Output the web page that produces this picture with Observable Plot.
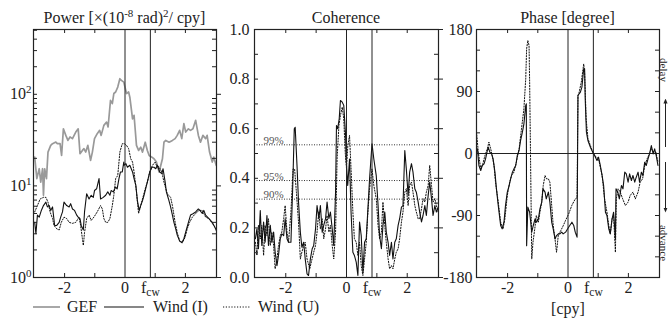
<!DOCTYPE html>
<html><head><meta charset="utf-8">
<script src="https://cdn.jsdelivr.net/npm/d3@7"></script>
<script src="https://cdn.jsdelivr.net/npm/@observablehq/plot@0.6"></script>
<style>
body{margin:0;background:#fff;}
#wrap{position:relative;width:670px;height:320px;overflow:hidden;}
#wrap svg{position:absolute;left:0;top:0;}
</style></head>
<body><div id="wrap"></div>
<script>
// ---------- data ----------
const fcw = 0.84;
const xDomain = [-3.03, 3.03];
const xTickValues = [-2, 0, fcw, 2];
const xMinorTicks = [-2, -1, 1, 2];

// Power spectra [f (cpy), power]
const powerGEF = [[-2.99,20.6],[-2.92,12],[-2.84,15.4],[-2.79,11],[-2.73,15.4],[-2.70,7.9],[-2.66,15.4],[-2.60,12],[-2.55,23.4],[-2.46,27.7],[-2.40,28.9],[-2.29,30.1],[-2.24,28.9],[-2.15,28.9],[-2.10,21.5],[-2.04,42],[-1.96,35.6],[-1.89,31.4],[-1.82,34.2],[-1.74,32.8],[-1.63,38.7],[-1.55,42],[-1.49,22.5],[-1.41,24.4],[-1.36,25.5],[-1.30,23.4],[-1.23,27.7],[-1.14,19],[-1.08,23.4],[-1.01,32.8],[-0.92,37.2],[-0.84,40.4],[-0.79,35.6],[-0.70,45.8],[-0.61,49.8],[-0.56,44],[-0.48,86],[-0.42,79],[-0.37,102],[-0.31,106],[-0.24,120],[-0.17,148],[-0.12,142],[-0.04,136],[0.05,102],[0.12,106],[0.16,93],[0.25,54],[0.30,59],[0.38,27.7],[0.45,24.4],[0.52,26.5],[0.58,23.4],[0.67,30],[0.74,24.4],[0.80,21.5],[0.89,20.6],[0.96,19.8],[1.04,18.2],[1.13,14.2],[1.24,19.8],[1.29,30],[1.35,31.4],[1.46,30],[1.57,31.4],[1.66,32.8],[1.73,35.6],[1.81,40.4],[1.88,32.8],[1.95,47.9],[2.01,38.7],[2.10,42],[2.17,40.4],[2.25,42],[2.34,52],[2.43,35.6],[2.50,30],[2.58,35.6],[2.67,32.8],[2.72,35.6],[2.80,23.4],[2.89,18.2],[2.94,20.6],[3.02,16.8]];
const powerWindI = [[-2.99,4.0],[-2.95,3.0],[-2.90,4.8],[-2.84,4.56],[-2.77,5.4],[-2.70,6.1],[-2.62,6.65],[-2.57,5.9],[-2.51,6.1],[-2.46,5.4],[-2.40,5.9],[-2.33,3.7],[-2.26,3.7],[-2.18,4.0],[-2.13,4.56],[-2.07,5.2],[-2.02,6.65],[-1.93,6.1],[-1.85,5.9],[-1.80,6.4],[-1.74,5.6],[-1.67,5.4],[-1.60,4.8],[-1.55,4.56],[-1.49,4.4],[-1.45,3.7],[-1.38,3.3],[-1.34,5.2],[-1.27,8.2],[-1.19,7.2],[-1.12,7.9],[-1.05,7.5],[-1.01,8.9],[-0.94,9.3],[-0.86,12],[-0.81,7.2],[-0.72,7.5],[-0.64,7.9],[-0.57,8.6],[-0.50,7.9],[-0.46,8.9],[-0.39,8.6],[-0.31,9.7],[-0.26,9.3],[-0.20,12],[-0.15,14.2],[-0.09,14.2],[-0.04,18.2],[-0.03,16.8],[0.03,17.5],[0.08,16],[0.16,16.8],[0.25,14.2],[0.30,12],[0.36,10.1],[0.41,6.9],[0.47,5.4],[0.52,6.1],[0.58,6.9],[0.63,7.9],[0.71,10.1],[0.78,12.5],[0.82,14.2],[0.89,16],[0.96,16],[1.02,15.4],[1.07,16.8],[1.15,14.2],[1.22,13.6],[1.26,15.4],[1.33,11],[1.37,8.6],[1.44,7.2],[1.51,5.9],[1.57,4.8],[1.62,4.0],[1.68,3.4],[1.73,2.9],[1.81,2.5],[1.88,2.4],[1.95,2.65],[2.03,3.3],[2.10,4.0],[2.17,4.8],[2.25,4.97],[2.34,5.2],[2.43,5.6],[2.48,5.4],[2.56,5.0],[2.61,5.4],[2.67,4.8],[2.78,4.4],[2.89,4.0],[3.00,3.4],[3.05,3.1]];
const powerWindU = [[-2.99,5.2],[-2.90,6.1],[-2.81,7.2],[-2.70,7.5],[-2.62,7.5],[-2.55,6.65],[-2.48,5.2],[-2.40,4.4],[-2.35,3.7],[-2.26,3.4],[-2.18,3.3],[-2.11,4.0],[-2.02,4.56],[-1.93,4.4],[-1.85,4.0],[-1.74,3.9],[-1.63,4.0],[-1.52,4.56],[-1.47,3.7],[-1.41,2.65],[-1.38,2.24],[-1.34,3.1],[-1.27,4.4],[-1.19,4.8],[-1.12,4.2],[-1.03,4.56],[-0.92,5.2],[-0.81,6.1],[-0.75,5.6],[-0.70,4.4],[-0.64,4.0],[-0.57,4.0],[-0.50,4.4],[-0.42,6.1],[-0.37,7.9],[-0.31,12],[-0.24,13],[-0.17,23.4],[-0.09,28.9],[-0.02,28.9],[0.05,27.7],[0.12,25.5],[0.19,19.8],[0.25,18.2],[0.30,14.2],[0.38,8.6],[0.45,5.0],[0.52,6.1],[0.58,7.2],[0.67,9.3],[0.74,11],[0.82,14.2],[0.91,16.8],[1.00,18.2],[1.04,16.8],[1.13,16],[1.22,14.2],[1.29,11],[1.40,8.2],[1.51,7.5],[1.57,6.1],[1.66,4.0],[1.73,3.1],[1.81,2.5],[1.90,2.4],[1.99,2.75],[2.06,3.4],[2.14,4.0],[2.23,4.56],[2.34,5.0],[2.45,5.4],[2.56,5.4],[2.67,4.56],[2.78,4.4],[2.89,3.9],[3.05,3.3]];

// Coherence [f, coherence]
const cohWindI = [[-3.00,0.156],[-2.95,0.196],[-2.90,0.116],[-2.84,0.27],[-2.79,0.129],[-2.73,0.224],[-2.68,0.142],[-2.62,0.25],[-2.57,0.129],[-2.51,0.21],[-2.46,0.142],[-2.40,0.183],[-2.35,0.102],[-2.29,0.048],[-2.24,0.089],[-2.18,0.156],[-2.13,0.176],[-2.07,0.169],[-2.02,0.237],[-1.96,0.156],[-1.91,0.142],[-1.83,0.142],[-1.77,0.371],[-1.72,0.60],[-1.69,0.606],[-1.63,0.452],[-1.58,0.304],[-1.52,0.183],[-1.47,0.122],[-1.41,0.142],[-1.36,0.075],[-1.30,0.015],[-1.25,0.008],[-1.19,0.075],[-1.13,0.116],[-1.08,0.129],[-1.02,0.196],[-0.97,0.29],[-0.91,0.237],[-0.86,0.29],[-0.80,0.183],[-0.75,0.21],[-0.69,0.237],[-0.64,0.304],[-0.58,0.237],[-0.53,0.264],[-0.47,0.196],[-0.42,0.129],[-0.36,0.344],[-0.33,0.613],[-0.29,0.60],[-0.24,0.64],[-0.20,0.714],[-0.14,0.707],[-0.09,0.694],[-0.03,0.573],[-0.01,0.478],[0.04,0.371],[0.10,0.478],[0.15,0.264],[0.21,0.102],[0.26,0.089],[0.32,0.062],[0.375,0.008],[0.43,0.224],[0.485,0.169],[0.54,0.021],[0.595,0.142],[0.65,0.156],[0.705,0.277],[0.76,0.398],[0.84,0.539],[0.90,0.478],[0.98,0.411],[1.04,0.29],[1.09,0.169],[1.15,0.116],[1.20,0.21],[1.26,0.264],[1.31,0.183],[1.37,0.142],[1.42,0.089],[1.48,0.142],[1.53,0.075],[1.59,0.142],[1.64,0.156],[1.70,0.21],[1.75,0.237],[1.81,0.284],[1.86,0.29],[1.92,0.512],[1.97,0.438],[2.03,0.331],[2.08,0.425],[2.14,0.459],[2.19,0.425],[2.25,0.358],[2.30,0.344],[2.36,0.304],[2.41,0.264],[2.47,0.224],[2.52,0.25],[2.58,0.29],[2.63,0.25],[2.69,0.331],[2.74,0.385],[2.80,0.318],[2.85,0.25],[2.91,0.29],[2.96,0.264],[3.02,0.284]];
const cohWindU = [[-3.00,0.142],[-2.95,0.089],[-2.90,0.21],[-2.84,0.156],[-2.79,0.21],[-2.73,0.089],[-2.68,0.21],[-2.62,0.169],[-2.57,0.237],[-2.51,0.129],[-2.46,0.183],[-2.40,0.129],[-2.35,0.035],[-2.29,0.075],[-2.24,0.129],[-2.18,0.169],[-2.13,0.183],[-2.07,0.237],[-2.02,0.29],[-1.96,0.183],[-1.91,0.142],[-1.83,0.264],[-1.76,0.438],[-1.71,0.438],[-1.65,0.344],[-1.58,0.224],[-1.52,0.075],[-1.47,0.102],[-1.41,0.129],[-1.36,0.142],[-1.30,0.075],[-1.21,0.035],[-1.135,0.075],[-1.08,0.102],[-1.02,0.129],[-0.97,0.183],[-0.915,0.264],[-0.86,0.196],[-0.80,0.237],[-0.75,0.156],[-0.69,0.196],[-0.64,0.25],[-0.58,0.183],[-0.53,0.21],[-0.47,0.129],[-0.42,0.075],[-0.36,0.183],[-0.31,0.478],[-0.25,0.613],[-0.20,0.653],[-0.14,0.687],[-0.09,0.64],[-0.04,0.50],[0.0,0.44],[0.044,0.532],[0.10,0.573],[0.154,0.425],[0.21,0.264],[0.26,0.156],[0.32,0.142],[0.375,0.089],[0.43,0.142],[0.485,0.048],[0.54,0.008],[0.595,0.075],[0.65,0.142],[0.705,0.264],[0.76,0.358],[0.84,0.438],[0.90,0.371],[0.98,0.318],[1.04,0.21],[1.09,0.156],[1.15,0.183],[1.20,0.304],[1.26,0.21],[1.31,0.142],[1.37,0.075],[1.42,0.035],[1.48,0.048],[1.53,0.035],[1.59,0.075],[1.64,0.102],[1.70,0.116],[1.75,0.156],[1.81,0.224],[1.86,0.264],[1.92,0.344],[1.97,0.358],[2.03,0.29],[2.08,0.371],[2.14,0.385],[2.19,0.344],[2.25,0.29],[2.30,0.264],[2.36,0.237],[2.41,0.237],[2.47,0.277],[2.52,0.318],[2.58,0.304],[2.63,0.344],[2.69,0.371],[2.74,0.452],[2.80,0.371],[2.85,0.304],[2.91,0.318],[2.96,0.29],[3.02,0.264]];
const sigLevels = [{label: "99%", value: 0.535}, {label: "95%", value: 0.391}, {label: "90%", value: 0.316}];

// Phase [f, degree]
const phaseWindI = [[-3.00,6.8],[-2.95,-17.4],[-2.89,-24.7],[-2.84,-17.4],[-2.78,-15],[-2.73,-7.7],[-2.67,4.4],[-2.64,9.2],[-2.59,1.9],[-2.53,-0.5],[-2.48,-7.7],[-2.42,-27.1],[-2.37,-51.3],[-2.31,-75.5],[-2.23,-104.5],[-2.18,-109.4],[-2.12,-99.7],[-2.07,-75.5],[-2.01,-56.1],[-1.95,-46.5],[-1.90,-36.8],[-1.84,-27.1],[-1.79,-22.3],[-1.73,-17.4],[-1.68,-2.9],[-1.62,4.4],[-1.57,18.9],[-1.51,31],[-1.46,43.1],[-1.40,69.7],[-1.38,72.1],[-1.37,-133.9],[-1.33,-77.9],[-1.27,-85.2],[-1.20,-114.2],[-1.15,-104.5],[-1.09,-94.8],[-1.04,-99.7],[-0.98,-94.8],[-0.93,-80.3],[-0.87,-70.6],[-0.83,-51.3],[-0.76,-56.1],[-0.72,-65.8],[-0.65,-56.1],[-0.60,-70.6],[-0.54,-99.7],[-0.49,-109.4],[-0.43,-124],[-0.38,-119.1],[-0.32,-116.7],[-0.27,-116.7],[-0.21,-114.2],[-0.16,-116.7],[-0.08,-114.2],[0.02,-107],[0.13,-99.7],[0.19,-104.5],[0.24,-114.2],[0.30,-121.4],[0.33,84.2],[0.41,89],[0.46,96.3],[0.52,123],[0.55,123],[0.57,79.4],[0.61,31],[0.66,18.9],[0.74,9.2],[0.82,1.9],[0.88,-2.9],[0.96,-10.2],[1.01,-5.3],[1.07,-17.4],[1.12,-29.5],[1.18,-46.5],[1.24,-85.2],[1.29,-90],[1.35,-109.4],[1.40,-116.7],[1.46,-94.8],[1.51,-85.2],[1.57,-124],[1.59,-51.3],[1.65,-56.1],[1.70,-65.8],[1.77,-46.5],[1.82,-51.3],[1.88,-27.1],[1.93,-29.5],[1.99,-41.6],[2.04,-29.5],[2.10,-39.2],[2.15,-31.9],[2.21,-41.6],[2.26,-34.4],[2.32,-27.1],[2.37,-41.6],[2.43,-27.1],[2.48,-31.9],[2.54,-12.6],[2.59,-17.4],[2.65,-7.7],[2.70,-0.5],[2.76,11.6],[2.82,-0.5],[2.87,6.8],[2.92,-2.9],[2.98,-17.4]];
const phaseWindU = [[-3.03,31],[-2.97,1.9],[-2.89,-22.3],[-2.82,-15],[-2.75,-2.9],[-2.67,6.8],[-2.62,16.5],[-2.56,6.8],[-2.51,-2.9],[-2.45,-17.4],[-2.40,-41.6],[-2.31,-70.6],[-2.23,-99.7],[-2.15,-109.4],[-2.09,-94.8],[-2.01,-60.9],[-1.93,-41.6],[-1.87,-31.9],[-1.79,-27.1],[-1.71,-12.6],[-1.62,6.8],[-1.54,35.8],[-1.46,64.8],[-1.40,108.4],[-1.37,152],[-1.33,164.1],[-1.29,156.8],[-1.27,103.6],[-1.24,-7.7],[-1.20,-153],[-1.16,-128.8],[-1.10,-109.4],[-1.05,-90],[-0.98,-99.7],[-0.93,-85.2],[-0.87,-70.6],[-0.82,-46.5],[-0.76,-31.9],[-0.71,-36.8],[-0.65,-36.8],[-0.60,-41.6],[-0.54,-75.5],[-0.49,-104.5],[-0.43,-124],[-0.38,-143.4],[-0.32,-118],[-0.24,-112],[-0.16,-105],[-0.08,-97],[0.02,-88],[0.13,-75],[0.24,-66],[0.30,-64],[0.33,84],[0.37,89],[0.44,103.6],[0.52,130],[0.55,118],[0.60,50.8],[0.66,21.8],[0.74,11.6],[0.82,1.9],[0.88,-2.9],[1.01,-7.7],[1.13,-31.9],[1.21,-65.8],[1.29,-85.2],[1.35,-104.5],[1.40,-116.7],[1.46,-94.8],[1.51,-90],[1.57,-143.4],[1.60,-65.8],[1.66,-51.3],[1.73,-56.1],[1.81,-65.8],[1.90,-75.5],[1.99,-70.6],[2.06,-60.9],[2.15,-56.1],[2.23,-65.8],[2.32,-56.1],[2.39,-41.6],[2.47,-36.8],[2.54,-17.4],[2.62,-7.7],[2.67,-2.9],[2.76,6.8],[2.84,1.9],[2.91,1.9],[2.98,-12.6]];

const powerMajor = [1, 10, 100];
const powerMinor = [2,3,4,5,6,7,8,9,20,30,40,50,60,70,80,90,200,300,400,500];
const cohLabels = [0, 0.2, 0.4, 0.6, 0.8, 1.0];
const cohMinor = [0.1,0.2,0.3,0.4,0.5,0.6,0.7,0.8,0.9];
const phaseLabels = [-180, -90, 0, 90, 180];
const phaseMinor = [-150,-120,-90,-60,-30,30,60,90,120,150];

// ---------- layout ----------
const W = 670, H = 320, TOP = 29, BOT = 277;
const INK = "#222";
const wrap = document.getElementById("wrap");
const fx = d => d[0], fy = d => d[1];

function panel({left, right, y, yLabels, yFmt, yPad, inLeft, inRight, outRight, data}) {
  const iw = right - left, ih = BOT - TOP;
  const marks = [
    ...data,
    Plot.ruleX([0, fcw], {stroke: INK, strokeWidth: 1}),
    Plot.frame({stroke: INK, strokeWidth: 1.2}),
    Plot.tickX(xMinorTicks, {x: d => d, insetBottom: ih - 4, stroke: INK}),
    Plot.tickX(xMinorTicks, {x: d => d, insetTop: ih - 4, stroke: INK}),
    Plot.tickY(inLeft, {y: d => d, insetRight: iw - 4, stroke: INK}),
    Plot.tickY(inRight, {y: d => d, insetLeft: iw - 4, stroke: INK}),
    Plot.axisX(xTickValues, {anchor: "bottom", tickSize: 0, tickPadding: 4, label: null,
      tickFormat: d => d === fcw ? "fcw" : String(d)}),
    Plot.axisY(yLabels, {anchor: "left", tickSize: 0, tickPadding: yPad, label: null, tickFormat: yFmt})
  ];
  if (outRight) marks.push(Plot.tickY(outRight, {y: d => d, insetLeft: iw, insetRight: -5, stroke: INK}));
  const svg = Plot.plot({
    width: W, height: H,
    marginLeft: left, marginRight: W - right, marginTop: TOP, marginBottom: H - BOT,
    x: {domain: xDomain}, y,
    style: {background: "transparent", fontFamily: "'Liberation Serif', serif", fontSize: "16px", color: INK, overflow: "visible"},
    marks
  });
  const ns = "http://www.w3.org/2000/svg";
  svg.querySelectorAll("text").forEach(t => {
    const s = t.textContent;
    const m = s.match(/^10\^(-?\d+)$/);
    if (m) {
      t.textContent = "10";
      const ts = document.createElementNS(ns, "tspan");
      ts.setAttribute("dy", "-6"); ts.setAttribute("font-size", "11"); ts.textContent = m[1];
      t.appendChild(ts);
    } else if (s === "fcw") {
      t.textContent = "f";
      const ts = document.createElementNS(ns, "tspan");
      ts.setAttribute("dy", "3"); ts.setAttribute("font-size", "11.5"); ts.textContent = "cw";
      t.appendChild(ts);
    }
  });
  wrap.appendChild(svg);
}

const lineI = {stroke: "#111", strokeWidth: 1.1, clip: true};
const lineU = {stroke: "#111", strokeWidth: 1, strokeDasharray: "1.2,1.6", clip: true};

// Panel 1: power
panel({
  left: 33, right: 216,
  y: {type: "log", domain: [1, 510]},
  yLabels: powerMajor, yFmt: d => "10^" + Math.round(Math.log10(d)), yPad: 2,
  inLeft: powerMinor.concat(powerMajor), inRight: powerMinor, outRight: powerMajor,
  data: [
    Plot.line(powerGEF, {x: fx, y: fy, stroke: "#999", strokeWidth: 1.7, clip: true}),
    Plot.line(powerWindU, {x: fx, y: fy, ...lineU}),
    Plot.line(powerWindI, {x: fx, y: fy, ...lineI})
  ]
});

// Panel 2: coherence
panel({
  left: 254, right: 438,
  y: {domain: [0, 1]},
  yLabels: cohLabels, yFmt: d => d.toFixed(1), yPad: 5,
  inLeft: cohMinor, inRight: cohMinor, outRight: cohLabels,
  data: [
    Plot.ruleY(sigLevels, {y: "value", stroke: "#333", strokeWidth: 1, strokeDasharray: "1,1.5"}),
    Plot.text(sigLevels, {y: "value", text: "label", frameAnchor: "left", dx: 9, dy: -1, textAnchor: "start", lineAnchor: "bottom", fontSize: 11, fill: "#555"}),
    Plot.line(cohWindU, {x: fx, y: fy, ...lineU}),
    Plot.line(cohWindI, {x: fx, y: fy, ...lineI})
  ]
});

// Panel 3: phase
panel({
  left: 476, right: 659,
  y: {domain: [-180, 180]},
  yLabels: phaseLabels, yFmt: d => String(d), yPad: 4,
  inLeft: phaseMinor, inRight: phaseMinor, outRight: null,
  data: [
    Plot.ruleY([0], {stroke: INK, strokeWidth: 1.2}),
    Plot.line(phaseWindU, {x: fx, y: fy, ...lineU}),
    Plot.line(phaseWindI, {x: fx, y: fy, ...lineI})
  ]
});

// ---------- titles, legend, annotations ----------
const over = `
<svg width="670" height="320" font-family="'Liberation Serif', serif" font-size="16" fill="${INK}">
  <defs><marker id="ah" viewBox="0 0 6 6" refX="3" refY="3" markerWidth="5" markerHeight="5" orient="auto-start-reverse"><path d="M0,0.5 L6,3 L0,5.5 z" fill="${INK}"/></marker></defs>
  <text x="124.5" y="23" text-anchor="middle">Power [×(10<tspan dy="-6" font-size="11">-8</tspan><tspan dy="6"> rad)</tspan><tspan dy="-6" font-size="11">2</tspan><tspan dy="6">/ cpy]</tspan></text>
  <text x="346" y="23" text-anchor="middle">Coherence</text>
  <text x="567.5" y="23" text-anchor="middle">Phase [degree]</text>
  <text x="568" y="314" text-anchor="middle">[cpy]</text>
  <line x1="33" y1="307" x2="60" y2="307" stroke="#999" stroke-width="1.7"/>
  <text x="67" y="312">GEF</text>
  <line x1="104" y1="307" x2="144" y2="307" stroke="#111" stroke-width="1.1"/>
  <text x="153" y="312">Wind (I)</text>
  <line x1="223" y1="307" x2="250" y2="307" stroke="#111" stroke-width="1" stroke-dasharray="1.2,1.6"/>
  <text x="258" y="312">Wind (U)</text>
  <text transform="translate(659.5,70) rotate(90)" text-anchor="middle" font-size="11">delay</text>
  <text transform="translate(659.5,243) rotate(90)" text-anchor="middle" font-size="11">advance</text>
  <line x1="665.5" y1="147" x2="665.5" y2="101" stroke="${INK}" stroke-width="1" marker-end="url(#ah)"/>
  <line x1="665.5" y1="162" x2="665.5" y2="210" stroke="${INK}" stroke-width="1" marker-end="url(#ah)"/>
</svg>`;
wrap.insertAdjacentHTML("beforeend", over);
</script>
</body></html>
